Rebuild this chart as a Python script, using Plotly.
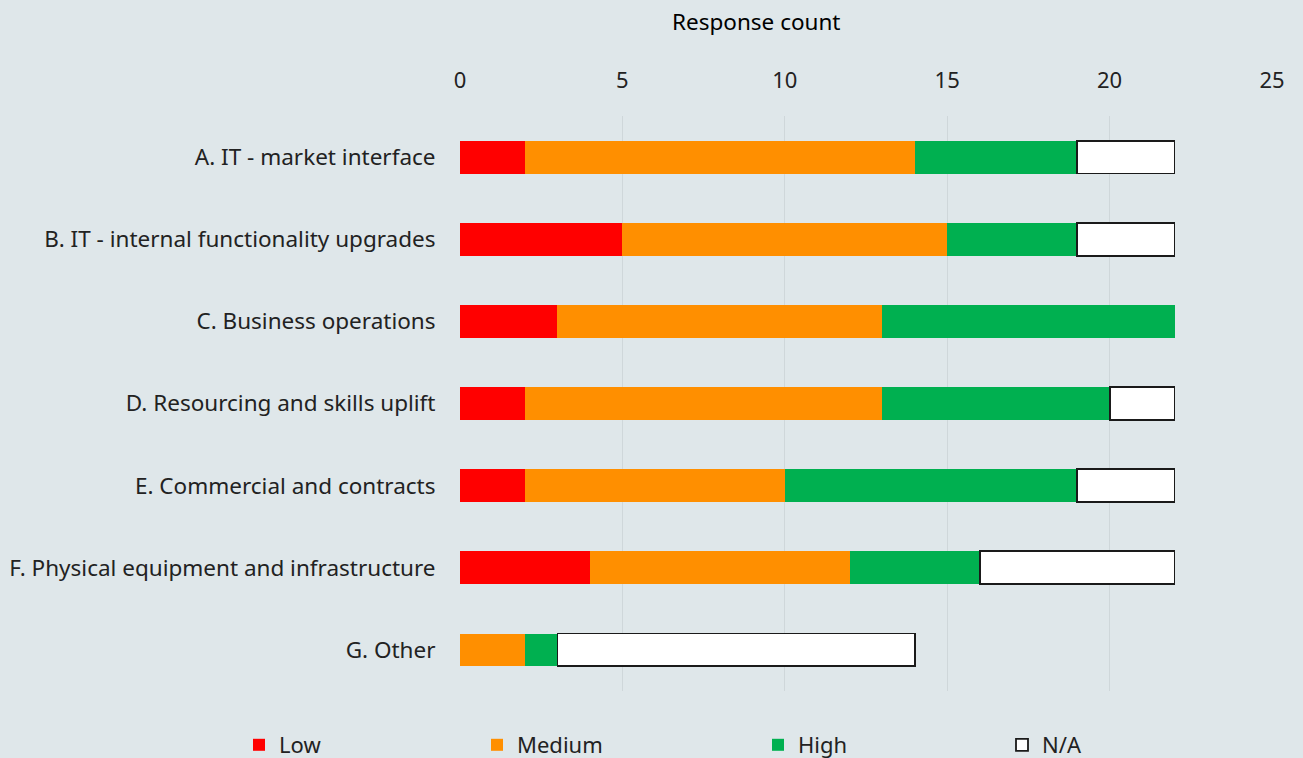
import plotly.graph_objects as go

categories = [
    "A. IT - market interface",
    "B. IT - internal functionality upgrades",
    "C. Business operations",
    "D. Resourcing and skills uplift",
    "E. Commercial and contracts",
    "F. Physical equipment and infrastructure",
    "G. Other",
]
low = [2, 5, 3, 2, 2, 4, 0]
medium = [12, 10, 10, 11, 8, 8, 2]
high = [5, 4, 9, 7, 9, 4, 1]
na = [3, 3, 0, 2, 3, 6, 11]

series = [
    ("Low", low, "#ff0000", None),
    ("Medium", medium, "#ff8f00", None),
    ("High", high, "#00b050", None),
    ("N/A", na, "#ffffff", "#1a1a1a"),
]

BG = "#dfe7ea"
FONT = "Noto Sans"
L, R, T, B = 460, 31, 116, 67
W, H = 1303, 758
PW = W - L - R
PH = H - T - B

# legend text start positions in pixels
legend_text_px = [279, 517, 798, 1042]

fig = go.Figure()
for i, (name, vals, color, line) in enumerate(series):
    lw = [1.8 if (line and v > 0) else 0 for v in vals]
    fig.add_trace(go.Bar(
        y=categories, x=vals, name=name, orientation="h",
        marker=dict(color=color,
                    line=dict(color=line if line else color, width=lw)),
        width=0.4, showlegend=True,
        legend="legend" if i == 0 else f"legend{i+1}",
    ))

legend_common = dict(
    orientation="h", yanchor="middle", y=-(745 - (T + PH)) / PH,
    xanchor="left", font=dict(size=22, color="#222"),
    bgcolor="rgba(0,0,0,0)",
)
legends = {}
for i, px in enumerate(legend_text_px):
    key = "legend" if i == 0 else f"legend{i+1}"
    legends[key] = dict(legend_common, x=(px - 40 - L) / PW)

fig.update_layout(
    barmode="stack",
    showlegend=True,
    width=W, height=H,
    paper_bgcolor=BG, plot_bgcolor=BG,
    margin=dict(l=L, r=R, t=T, b=B, autoexpand=False),
    font=dict(family=FONT, size=22.3, color="#1a1a1a"),
    xaxis=dict(
        side="top", range=[0, 25], dtick=5, showgrid=True,
        gridcolor="#cfd7da", gridwidth=1, zeroline=False,
        tickfont=dict(size=22, color="#222"), ticks="outside", ticklen=18,
        tickcolor="rgba(0,0,0,0)",
    ),
    yaxis=dict(
        categoryorder="array", categoryarray=categories[::-1],
        showgrid=False, ticks="outside", ticklen=19, tickcolor="rgba(0,0,0,0)",
        tickfont=dict(size=22.5, color="#222"),
    ),
    annotations=[dict(
        text="Response count", xref="paper", yref="paper",
        x=(756 - L) / PW, y=1 + (T - 21) / PH, xanchor="center", yanchor="middle",
        showarrow=False, font=dict(size=22.5, color="#000"),
    )],
    **legends,
)

fig.write_html("out.html", config={"displayModeBar": False},
               post_script="document.body.style.margin='0';")
